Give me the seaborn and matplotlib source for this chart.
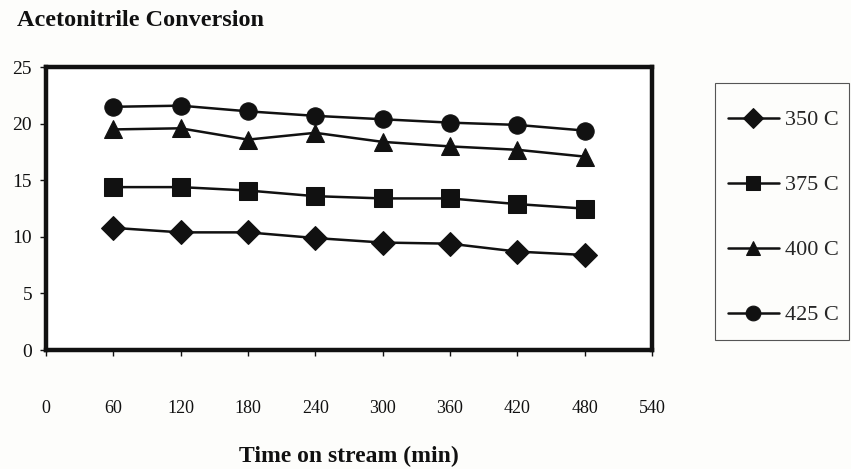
import matplotlib
matplotlib.use("Agg")
import matplotlib.pyplot as plt
from matplotlib.patches import Rectangle
import seaborn as sns
import pandas as pd

# Acetonitrile conversion (%) vs. time on stream at four temperatures
time_min = [60, 120, 180, 240, 300, 360, 420, 480]
conv_350 = [10.8, 10.4, 10.4, 9.9, 9.5, 9.4, 8.7, 8.4]
conv_375 = [14.4, 14.4, 14.1, 13.6, 13.4, 13.4, 12.9, 12.5]
conv_400 = [19.5, 19.6, 18.6, 19.2, 18.4, 18.0, 17.7, 17.1]
conv_425 = [21.5, 21.6, 21.1, 20.7, 20.4, 20.1, 19.9, 19.4]
series_labels = ["350 C", "375 C", "400 C", "425 C"]
x_ticks = [0, 60, 120, 180, 240, 300, 360, 420, 480, 540]
y_ticks = [0, 5, 10, 15, 20, 25]

frames = []
for label, vals in zip(series_labels, [conv_350, conv_375, conv_400, conv_425]):
    frames.append(pd.DataFrame({"time": time_min, "conversion": vals, "series": label}))
df = pd.concat(frames, ignore_index=True)

sns.set_style("ticks")
plt.rcParams["font.family"] = ["Liberation Serif", "DejaVu Serif"]

fig = plt.figure(figsize=(8.51, 4.69), dpi=100)
fig.patch.set_facecolor("#fdfdfb")
ax = fig.add_axes([0.054, 0.2537, 0.712, 0.603])
ax.set_facecolor("white")

ink = "#111111"
sns.lineplot(
    data=df, x="time", y="conversion", hue="series", style="series",
    palette=[ink] * 4, markers=["D", "s", "^", "o"], dashes=False,
    markersize=12.5, linewidth=1.8, markeredgecolor=ink, ax=ax, legend=True,
)

ax.set_xlim(0, 540)
ax.set_ylim(0, 25)
ax.set_xticks(x_ticks)
ax.set_yticks(y_ticks)
ax.tick_params(axis="x", length=4, width=1, pad=32, labelsize=13, colors=ink)
ax.tick_params(axis="y", length=4, width=1, pad=6, labelsize=14, colors=ink)
for s in ax.spines.values():
    s.set_linewidth(3.2)
    s.set_color(ink)
    s.set_visible(True)

ax.set_xlabel("Time on stream (min)", fontsize=17, fontweight="bold", labelpad=21, color=ink)
ax.set_ylabel("")

fig.text(0.02, 0.957, "Acetonitrile Conversion", fontsize=17.5, fontweight="bold",
         ha="left", va="center", color=ink)

# legend entries without a frame, boxed separately
handles, labels = ax.get_legend_handles_labels()
ax.get_legend().remove()
leg = fig.legend(handles, labels, loc="center left", bbox_to_anchor=(0.855, 0.536),
                 frameon=False, fontsize=16, labelspacing=2.0, handlelength=2.3,
                 handletextpad=0.3, borderpad=0, borderaxespad=0,
                 markerscale=0.85)
fig.patches.append(Rectangle((0.8402, 0.2751), 0.1575, 0.548, transform=fig.transFigure,
                             fill=False, edgecolor="#555555", linewidth=0.8))

fig.savefig("out.png", dpi=100, facecolor=fig.get_facecolor())
